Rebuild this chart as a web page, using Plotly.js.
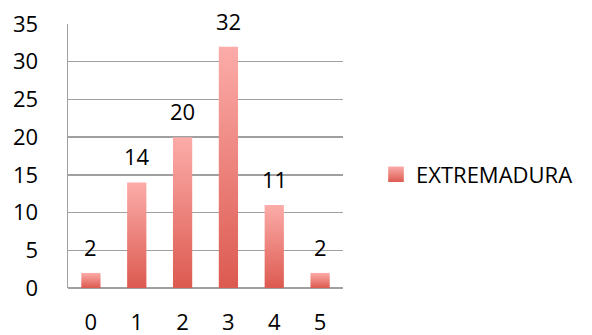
<!DOCTYPE html>
<html><head><meta charset="utf-8">
<script src="https://cdn.plot.ly/plotly-3.0.1.min.js"></script>
<style>html,body{margin:0;padding:0;background:#fff}#c{width:592px;height:335px}</style>
</head><body><div id="c"></div>
<script>
const categories = ['0','1','2','3','4','5'];
const values = [2, 14, 20, 32, 11, 2];
const seriesName = 'EXTREMADURA';
const yTicks = [0,5,10,15,20,25,30,35];

const font = {family: 'Open Sans, Liberation Sans, sans-serif', size: 22, color: '#000'};

const trace = {
  type: 'bar', x: categories, y: values, name: seriesName,
  marker: {color: '#EC827C', line: {width: 0}},
  showlegend: true, hoverinfo: 'none'
};

const annotations = categories.map((c, i) => ({
  x: c, y: values[i], xref: 'x', yref: 'y', text: String(values[i]),
  showarrow: false, yanchor: 'bottom', yshift: 9, font: font
}));

const layout = {
  width: 592, height: 335,
  margin: {l: 68, r: 249, t: 24, b: 47},
  paper_bgcolor: '#fff', plot_bgcolor: '#fff',
  bargap: 0.58,
  font: font,
  xaxis: {type: 'category', showgrid: false, zeroline: false, showline: false,
          ticks: '', tickfont: font, ticklabelstandoff: 19, fixedrange: true},
  yaxis: {range: [0, 35], tickvals: yTicks, showgrid: true, gridcolor: '#A0A0A0', gridwidth: 1.5,
          showline: true, linecolor: '#A0A0A0', linewidth: 1.5, zeroline: true, zerolinecolor: '#A0A0A0', zerolinewidth: 1.5,
          ticks: '', tickfont: font, ticklabelstandoff: 24, fixedrange: true},
  showlegend: true,
  legend: {x: 1.12, y: 0.43, xanchor: 'left', yanchor: 'middle', font: {family: font.family, size: 22, color: '#000'},
           bgcolor: 'rgba(0,0,0,0)', itemwidth: 30},
  annotations: annotations
};

Plotly.newPlot('c', [trace], layout, {staticPlot: true, displayModeBar: false}).then(gd => {
  const svg = gd.querySelector('svg.main-svg');
  const ns = 'http://www.w3.org/2000/svg';
  let defs = svg.querySelector('defs');
  const g = document.createElementNS(ns, 'linearGradient');
  g.setAttribute('id', 'barGrad');
  g.setAttribute('x1', '0'); g.setAttribute('y1', '0'); g.setAttribute('x2', '0'); g.setAttribute('y2', '1');
  [['0', '#FCACA9'], ['1', '#DC5A50']].forEach(([o, c]) => {
    const s = document.createElementNS(ns, 'stop');
    s.setAttribute('offset', o); s.setAttribute('stop-color', c); g.appendChild(s);
  });
  defs.appendChild(g);
  gd.querySelectorAll('.bars .point path, .legend .legendpoints path').forEach(p => {
    p.style.fill = 'url(#barGrad)';
  });
  gd.querySelectorAll('.legend .legendpoints path').forEach(p => {
    const t = p.getAttribute('transform') || '';
    p.setAttribute('transform', (t + ' scale(1.3)').trim());
  });
});
</script></body></html>
